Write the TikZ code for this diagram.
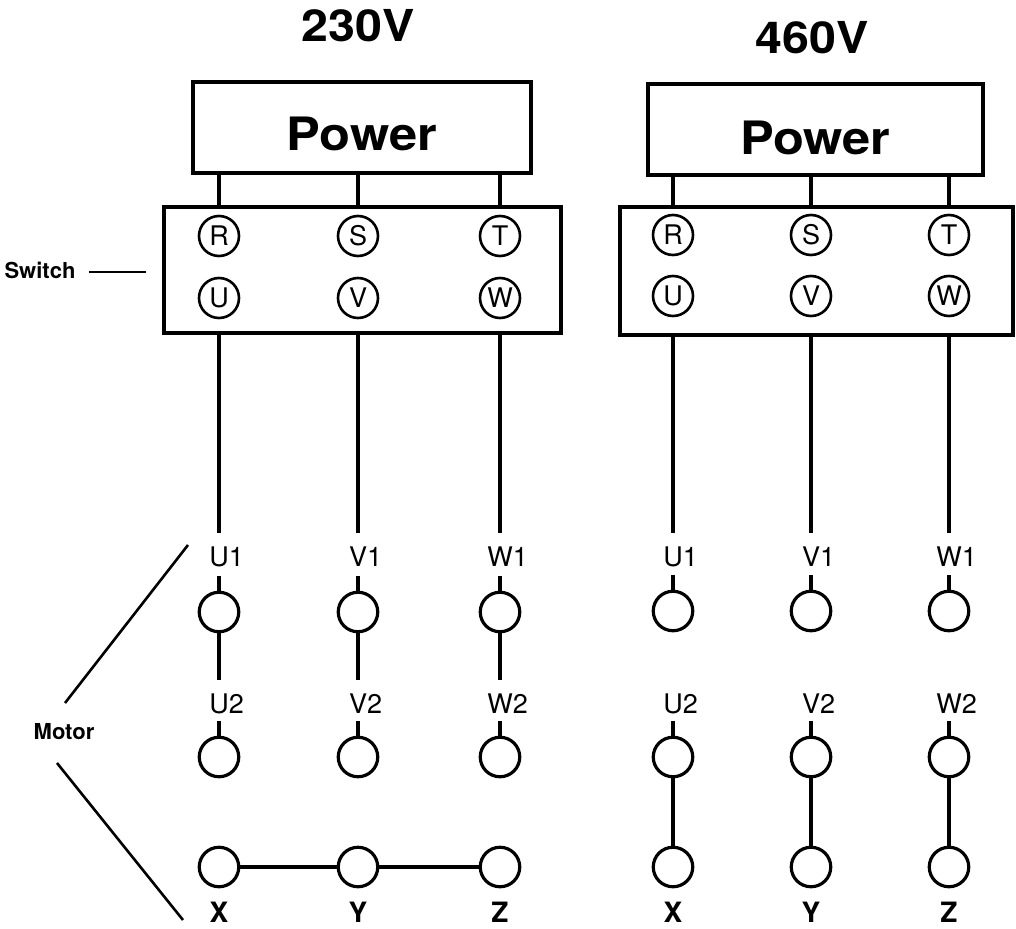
\documentclass[tikz,border=0pt]{standalone}
\usepackage{fontspec}
\setmainfont{TeX Gyre Heros}
\newfontfamily\widefont[FakeStretch=1.1]{TeX Gyre Heros}
\begin{document}
\begin{tikzpicture}[x=1pt,y=-1pt,
  wire/.style={line width=3.5pt},
  thinwire/.style={line width=2.6pt},
  box/.style={draw,line width=3.6pt,inner sep=0pt},
  sterm/.style={draw,circle,line width=2.6pt,minimum size=40pt,inner sep=0pt,font=\fontsize{27}{27}\selectfont},
  mterm/.style={draw,circle,line width=3.2pt,minimum size=39.5pt,inner sep=0pt},
  tlab/.style={inner sep=0pt,font=\fontsize{27}{27}\selectfont},
  xlab/.style={inner sep=0pt,font=\bfseries\fontsize{28}{28}\selectfont},
  sidelab/.style={inner sep=0pt,font=\bfseries\fontsize{22}{22}\selectfont},
  titlelab/.style={inner sep=0pt,font=\widefont\bfseries\fontsize{44}{44}\selectfont},
  pwlab/.style={inner sep=0pt,font=\widefont\bfseries\fontsize{46}{46}\selectfont}]
\useasboundingbox (0,0) rectangle (1016,928);

% ---------------- left: 230V ----------------
\node[titlelab] (tL) at (358,26) {230V};
\node[box,minimum width=338pt,minimum height=91pt] (pL) at (362,127.5) {};
\node[pwlab] (pLt) at ([yshift=-6.5pt]pL.center) {Power};
\node[box,minimum width=397pt,minimum height=126pt] (sL) at (362.5,270) {};
\foreach \x/\a/\b in {219/R/U, 358/S/V, 500/T/W}{
  \node[sterm] (sL\a) at (\x,236) {\a};
  \node[sterm] (sL\b) at (\x,298) {\b};
  \draw[wire] (pL.south -| sL\a) -- (sL.north -| sL\a);
}
\foreach \x/\p/\q in {219/U/X, 358/V/Y, 500/W/Z}{
  \node[tlab] (L\p1) at (\x,557) {\p\rlap{1}};
  \draw[wire,shorten >=14pt] (sL.south -| L\p1) -- (L\p1.north);
  \node[mterm] (L\p1c) at (\x,612) {};
  \draw[wire] (L\p1c.north) -- ++(0,-15);
  \node[tlab] (L\p2) at (\x,704) {\p\rlap{2}};
  \draw[wire,shorten >=14pt] (L\p1c.south) -- (L\p2.north);
  \node[mterm] (L\p2c) at (\x,757) {};
  \draw[wire] (L\p2c.north) -- ++(0,-15);
  \node[mterm] (L\q-c) at (\x,867) {};
  \node[xlab] (L\q) at (\x,912) {\q};
}
\draw[wire] (LX-c) -- (LY-c);
\draw[wire] (LY-c) -- (LZ-c);

% side labels
\node[sidelab] (swlab) at (40,270) {Switch};
\draw[thinwire,shorten >=16pt] ([xshift=13pt,yshift=-2pt]swlab.east) -- ([yshift=-2pt]sL.west);
\node[sidelab] (motlab) at (64,732) {Motor};
\coordinate (mA) at (188,545);
\coordinate (mB) at (65,703);
\coordinate (mC) at (57,763);
\coordinate (mD) at (183,920);
\draw[thinwire] (mA) -- (mB);
\draw[thinwire] (mC) -- (mD);

% ---------------- right: 460V ----------------
\node[titlelab] (tR) at (812,38) {460V};
\node[box,minimum width=335pt,minimum height=91pt] (pR) at (815.5,129.5) {};
\node[pwlab] (pRt) at ([yshift=-8pt]pR.center) {Power};
\node[box,minimum width=393pt,minimum height=128pt] (sR) at (816.5,271) {};
\foreach \x/\a/\b in {673/R/U, 811/S/V, 949/T/W}{
  \node[sterm] (sR\a) at (\x,235) {\a};
  \node[sterm] (sR\b) at (\x,296) {\b};
  \draw[wire] (pR.south -| sR\a) -- (sR.north -| sR\a);
}
\foreach \x/\p/\q in {673/U/X, 811/V/Y, 949/W/Z}{
  \node[tlab] (R\p1) at (\x,557) {\p\rlap{1}};
  \draw[wire,shorten >=14pt] (sR.south -| R\p1) -- (R\p1.north);
  \node[mterm] (R\p1c) at (\x,611) {};
  \draw[wire] (R\p1c.north) -- ++(0,-15);
  \node[tlab] (R\p2) at (\x,704) {\p\rlap{2}};
  \node[mterm] (R\p2c) at (\x,757) {};
  \draw[wire] (R\p2c.north) -- ++(0,-15);
  \node[mterm] (R\q-c) at (\x,867) {};
  \draw[wire] (R\p2c) -- (R\q-c);
  \node[xlab] (R\q) at (\x,912) {\q};
}
\end{tikzpicture}
\end{document}
